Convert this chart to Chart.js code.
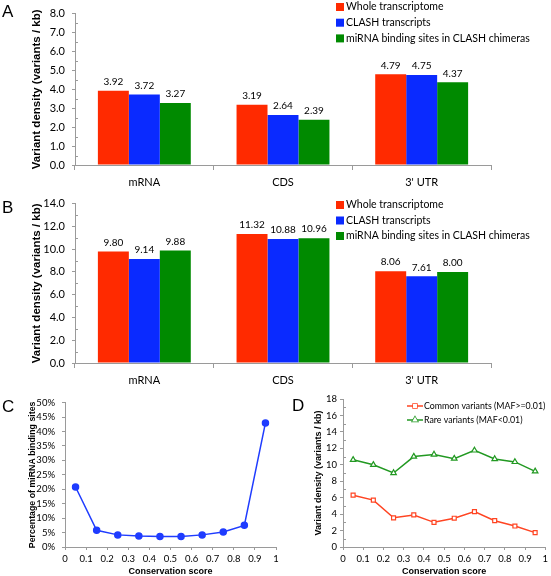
<!DOCTYPE html>
<html><head><meta charset="utf-8">
<script src="https://cdn.jsdelivr.net/npm/chart.js@4"></script>
<style>
body{margin:0;background:#fff;width:551px;height:576px;position:relative;overflow:hidden;font-family:'Liberation Sans',Arial,sans-serif}
canvas{position:absolute}
.lbl{position:absolute;font-size:17px;line-height:17px;color:#000;font-family:'Liberation Sans',Arial,sans-serif}
</style></head><body>
<canvas id="cA" width="551" height="190" style="left:0;top:0"></canvas>
<canvas id="cB" width="551" height="200" style="left:0;top:190px"></canvas>
<canvas id="cC" width="290" height="186" style="left:0;top:390px"></canvas>
<canvas id="cD" width="261" height="186" style="left:290px;top:390px"></canvas>
<div class="lbl" style="left:2px;top:3px">A</div>
<div class="lbl" style="left:2px;top:199px">B</div>
<div class="lbl" style="left:2px;top:398px">C</div>
<div class="lbl" style="left:292px;top:397px">D</div>
<script>
// ---------- data ----------
const barCategories = ['mRNA', 'CDS', "3' UTR"];
const barSeriesNames = ['Whole transcriptome', 'CLASH transcripts', 'miRNA binding sites in CLASH chimeras'];
const panelA_whole = [3.92, 3.19, 4.79];
const panelA_clash = [3.72, 2.64, 4.75];
const panelA_sites = [3.27, 2.39, 4.37];
const panelB_whole = [9.80, 11.32, 8.06];
const panelB_clash = [9.14, 10.88, 7.61];
const panelB_sites = [9.88, 10.96, 8.00];
const conservationBins = [0.05, 0.15, 0.25, 0.35, 0.45, 0.55, 0.65, 0.75, 0.85, 0.95];
const bindingSitePct = [20.8, 5.8, 4.2, 3.8, 3.6, 3.6, 4.2, 5.2, 7.5, 43.0];
const commonVariants = [6.3, 5.7, 3.55, 3.9, 3.0, 3.5, 4.3, 3.2, 2.55, 1.75];
const rareVariants = [10.6, 10.0, 9.0, 11.0, 11.25, 10.75, 11.75, 10.7, 10.35, 9.2];
const lineSeriesNames = ['Common variants (MAF>=0.01)', 'Rare variants (MAF<0.01)'];

Chart.defaults.font.family = 'Lato';
Chart.defaults.color = '#000';
const AXIS = '#9a9a9a';
const RED = '#ff2a00', BLUE = '#0a2aff', GREEN = '#008a00';

const minorTicks = {
  id: 'minorTicks',
  afterDraw(chart, args, opts) {
    if (!opts || !opts.step) return;
    const s = chart.scales.y, ctx = chart.ctx;
    ctx.save(); ctx.strokeStyle = AXIS; ctx.lineWidth = 1;
    for (let v = opts.step / 2; v < s.max; v += opts.step) {
      const y = Math.round(s.getPixelForValue(v)) + 0.5;
      ctx.beginPath(); ctx.moveTo(s.right, y); ctx.lineTo(s.right + 3, y); ctx.stroke();
    }
    ctx.restore();
  }
};

const barLabels = {
  id: 'barLabels',
  afterDatasetsDraw(chart) {
    const ctx = chart.ctx;
    ctx.save();
    ctx.font = '10px Lato'; ctx.fillStyle = '#000'; ctx.textAlign = 'center'; ctx.textBaseline = 'bottom';
    chart.data.datasets.forEach((ds, i) => {
      chart.getDatasetMeta(i).data.forEach((el, j) => {
        ctx.fillText(ds.data[j].toFixed(2), el.x, el.y - 4);
      });
    });
    ctx.restore();
  }
};

const boxLegend = {
  id: 'boxLegend',
  afterDraw(chart, args, opts) {
    if (!opts || opts.x === undefined) return;
    const ctx = chart.ctx;
    ctx.save();
    ctx.font = '10.5px Lato'; ctx.textBaseline = 'middle'; ctx.textAlign = 'left';
    chart.data.datasets.forEach((ds, i) => {
      const y = opts.y + i * opts.gap;
      ctx.fillStyle = ds.backgroundColor;
      ctx.fillRect(opts.x, y - 4, 8, 8);
      ctx.fillStyle = '#000';
      ctx.fillText(ds.label, opts.x + 10, y);
    });
    ctx.restore();
  }
};

const lineLegend = {
  id: 'lineLegend',
  afterDraw(chart, args, opts) {
    if (!opts || opts.x === undefined) return;
    const ctx = chart.ctx;
    ctx.save();
    ctx.font = '8.8px Lato'; ctx.textBaseline = 'middle'; ctx.textAlign = 'left';
    chart.data.datasets.forEach((ds, i) => {
      const y = opts.y + i * opts.gap;
      ctx.strokeStyle = ds.borderColor; ctx.lineWidth = 1.5;
      ctx.beginPath(); ctx.moveTo(opts.x, y); ctx.lineTo(opts.x + 16, y); ctx.stroke();
      Chart.helpers.drawPoint(ctx, {pointStyle: ds.pointStyle, rotation: 0, borderWidth: 1.2, radius: ds.pointRadius}, opts.x + 8, y);
      ctx.fillStyle = '#fff'; ctx.fill();
      ctx.fillStyle = '#000';
      ctx.fillText(ds.label, opts.x + 17, y);
    });
    ctx.restore();
  }
};

function makeBar(id, series, yMax, yStep, area, legend) {
  const cv = document.getElementById(id);
  const W = cv.width, H = cv.height;
  const colors = [RED, BLUE, GREEN];
  new Chart(cv, {
    type: 'bar',
    data: {
      labels: barCategories,
      datasets: series.map((d, i) => ({
        label: barSeriesNames[i], data: d, backgroundColor: colors[i],
        borderWidth: 0, categoryPercentage: 0.67, barPercentage: 1.0
      }))
    },
    options: {
      responsive: false, animation: false, devicePixelRatio: 1,
      layout: {padding: {left: 0, top: area.top, right: W - area.right, bottom: 0}},
      plugins: {legend: {display: false}, tooltip: {enabled: false},
        minorTicks: {step: yStep}, boxLegend: legend},
      scales: {
        x: {
          afterFit(s) { s.height = H - area.bottom; },
          grid: {display: true, drawOnChartArea: false, drawTicks: true, tickLength: 5, color: AXIS, offset: true},
          border: {color: AXIS},
          ticks: {font: {size: 11}, padding: 6, maxRotation: 0}
        },
        y: {
          min: 0, max: yMax,
          afterFit(s) { s.width = area.left; },
          grid: {display: true, drawOnChartArea: false, drawTicks: true, tickLength: 3, color: AXIS},
          border: {color: AXIS},
          ticks: {stepSize: yStep, font: {size: 11}, padding: 7, callback: v => v.toFixed(1)},
          title: {display: true, text: 'Variant density (variants / kb)',
            font: {family: 'Liberation Sans', weight: 'bold', size: 11.5}, padding: {top: 30, bottom: 0}}
        }
      }
    },
    plugins: [minorTicks, barLabels, boxLegend]
  });
}

makeBar('cA', [panelA_whole, panelA_clash, panelA_sites], 8, 1,
  {left: 75, right: 491, top: 3, bottom: 165}, {x: 336, y: 7, gap: 15.7});
makeBar('cB', [panelB_whole, panelB_clash, panelB_sites], 14, 2,
  {left: 75, right: 491, top: 10, bottom: 173}, {x: 336, y: 15, gap: 15.5});

function makeLine(id, datasets, yOpts, area, yTitle, titleX, yTitleSize, legend, minorStep) {
  const cv = document.getElementById(id);
  const W = cv.width, H = cv.height;
  new Chart(cv, {
    type: 'line',
    data: {datasets},
    options: {
      responsive: false, animation: false, devicePixelRatio: 1,
      layout: {padding: {left: 0, top: area.top, right: W - area.right, bottom: 0}},
      plugins: {legend: {display: false}, tooltip: {enabled: false},
        minorTicks: {step: minorStep}, lineLegend: legend || {}},
      scales: {
        x: {
          type: 'linear', min: 0, max: 1,
          afterFit(s) { s.height = H - area.bottom; },
          grid: {display: true, drawOnChartArea: false, drawTicks: true, tickLength: 3, color: AXIS},
          border: {color: AXIS},
          ticks: {stepSize: 0.1, autoSkip: false, maxRotation: 0, font: {size: 9.5}, padding: 3,
            callback: v => { const r = Math.round(v * 10) / 10; return (r === 0 || r === 1) ? String(r) : r.toFixed(1); }},
          title: {display: true, text: 'Conservation score',
            font: {family: 'Liberation Sans', weight: 'bold', size: 9, lineHeight: 1}, padding: {top: 0, bottom: 0}}
        },
        y: Object.assign({
          afterFit(s) { s.width = area.left; },
          grid: {display: true, drawOnChartArea: false, drawTicks: true, tickLength: 3, color: AXIS},
          border: {color: AXIS},
          title: {display: true, text: yTitle,
            font: {family: 'Liberation Sans', weight: 'bold', size: yTitleSize}, padding: {top: titleX, bottom: 0}}
        }, yOpts)
      }
    },
    plugins: [minorTicks, lineLegend]
  });
}

makeLine('cC', [{
    label: 'Percentage of miRNA binding sites',
    data: conservationBins.map((x, i) => ({x, y: bindingSitePct[i]})),
    borderColor: '#1f3cff', backgroundColor: '#1f3cff', borderWidth: 1.5,
    pointRadius: 3, pointStyle: 'circle', tension: 0
  }],
  {min: 0, max: 50, ticks: {stepSize: 5, font: {size: 9.5}, padding: 7, callback: v => v + '%'}},
  {left: 65, right: 276, top: 9, bottom: 157},
  'Percentage of miRNA binding sites', 27, 8.8, null, 0);

makeLine('cD', [{
    label: lineSeriesNames[0],
    data: conservationBins.map((x, i) => ({x, y: commonVariants[i]})),
    borderColor: '#ff4422', backgroundColor: '#ffffff', borderWidth: 1.5,
    pointRadius: 2.8, pointBorderWidth: 1.2, pointStyle: 'rect', tension: 0
  }, {
    label: lineSeriesNames[1],
    data: conservationBins.map((x, i) => ({x, y: rareVariants[i]})),
    borderColor: '#229922', backgroundColor: '#ffffff', borderWidth: 1.5,
    pointRadius: 3.2, pointBorderWidth: 1.2, pointStyle: 'triangle', tension: 0
  }],
  {min: 0, max: 18, ticks: {stepSize: 2, font: {size: 9.5}, padding: 3}},
  {left: 53, right: 260, top: 9, bottom: 157},
  'Variant density (variants / kb)', 23, 9, {x: 117, y: 16, gap: 14}, 2);
</script>
</body></html>
